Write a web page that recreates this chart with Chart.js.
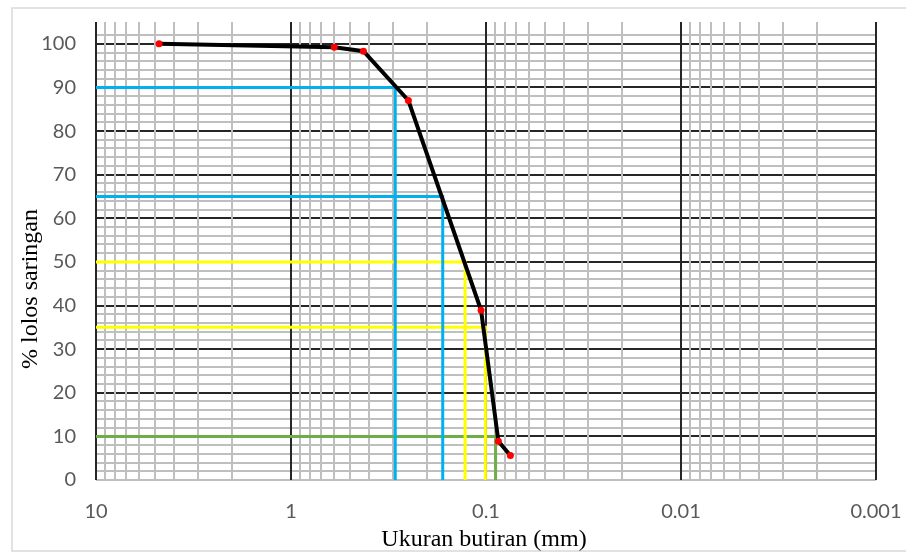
<!DOCTYPE html>
<html>
<head>
<meta charset="utf-8">
<title>Grafik gradasi butiran</title>
<script src="https://cdn.jsdelivr.net/npm/chart.js@4.4.1/dist/chart.umd.min.js"></script>
<style>
  html, body { margin: 0; padding: 0; background: #fff; }
</style>
</head>
<body>
<canvas id="gradasiChart" width="906" height="552"></canvas>
<script>
// data analisa saringan: ukuran butiran (mm) dan persen lolos
const ukuranButiran = [4.75, 0.6, 0.425, 0.25, 0.106, 0.0864, 0.075];
const persenLolos = [100, 99.2, 98.3, 87.0, 38.9, 8.9, 5.6];

// garis bantu D90, D65, D50, D35, D10
const labelD = ['D90', 'D65', 'D50', 'D35', 'D10'];
const persenD = [90, 65, 50, 35, 10];
const ukuranD = [0.292, 0.1667, 0.128, 0.1007, 0.0893];
const warnaD = ['#00b0f0', '#00b0f0', '#ffff00', '#ffff00', '#70ad47'];

// label sumbu
const xTickNilai = [10, 1, 0.1, 0.01, 0.001];
const xTickLabel = ['10', '1', '0.1', '0.01', '0.001'];
const xMinorKali = [2, 3, 4, 5, 6, 7, 8, 9];
const yTickLabel = [0, 10, 20, 30, 40, 50, 60, 70, 80, 90, 100];

const judulX = 'Ukuran butiran (mm)';
const judulY = '% lolos saringan';

// datasets: garis gradasi paling atas (index 0 digambar terakhir)
const datasets = [{
  label: 'Gradasi',
  data: ukuranButiran.map((x, i) => ({ x: x, y: persenLolos[i] })),
  borderColor: '#000000',
  borderWidth: 4,
  pointRadius: 3.5,
  pointBorderWidth: 0,
  pointBackgroundColor: '#ff0000',
  tension: 0
}];

labelD.forEach((lbl, i) => {
  datasets.push({
    label: lbl,
    data: [
      { x: xTickNilai[0], y: persenD[i] },
      { x: ukuranD[i], y: persenD[i] },
      { x: ukuranD[i], y: 0 }
    ],
    borderColor: warnaD[i],
    borderWidth: 3,
    pointRadius: 0,
    tension: 0
  });
});

// bingkai dan judul sumbu
const bingkaiPlugin = {
  id: 'bingkai',
  beforeDraw(chart) {
    const ctx = chart.ctx;
    ctx.save();
    ctx.fillStyle = '#ffffff';
    ctx.fillRect(0, 0, chart.width, chart.height);
    ctx.strokeStyle = '#d9d9d9';
    ctx.lineWidth = 1.5;
    ctx.strokeRect(12, 8, 900, 543);
    ctx.restore();
  },
  afterDraw(chart) {
    const ctx = chart.ctx;
    ctx.save();
    ctx.fillStyle = '#000000';
    ctx.font = '24px "Liberation Serif", "Times New Roman", serif';
    ctx.textAlign = 'center';
    ctx.textBaseline = 'middle';
    ctx.fillText(judulX, 484, 540);
    ctx.translate(31, 289);
    ctx.rotate(-Math.PI / 2);
    ctx.fillText(judulY, 0, 0);
    ctx.restore();
  }
};

const tickFont = { family: 'Lato', size: 20 };

new Chart(document.getElementById('gradasiChart'), {
  type: 'line',
  data: { datasets: datasets },
  plugins: [bingkaiPlugin],
  options: {
    responsive: false,
    animation: false,
    layout: { padding: { left: 12, top: 22, right: 30, bottom: 0 } },
    plugins: {
      legend: { display: false },
      tooltip: { enabled: false }
    },
    scales: {
      x: {
        type: 'logarithmic',
        reverse: true,
        min: 0.001,
        max: 10,
        afterBuildTicks: (scale) => {
          const t = [];
          xTickNilai.forEach(v => {
            t.push({ value: v, major: true });
            if (v < 10) xMinorKali.forEach(k => t.push({ value: v * k, major: false }));
          });
          scale.ticks = t.sort((a, b) => a.value - b.value);
        },
        afterFit: (scale) => {
          scale.height = 72;
          scale.paddingLeft = 0;
          scale.paddingRight = 0;
        },
        border: { display: false },
        grid: {
          z: -1,
          drawTicks: false,
          lineWidth: 2,
          color: (c) => (c.tick && c.tick.major) ? '#262626' : '#bfbfbf'
        },
        ticks: {
          autoSkip: false,
          maxRotation: 0,
          padding: 20,
          color: '#595959',
          font: tickFont,
          callback: (v) => {
            const i = xTickNilai.indexOf(v);
            return i >= 0 ? xTickLabel[i] : '';
          }
        }
      },
      y: {
        type: 'linear',
        min: 0,
        max: 105,
        afterFit: (scale) => {
          scale.width = 84;
          scale.paddingTop = 0;
          scale.paddingBottom = 0;
        },
        border: { display: false },
        grid: {
          z: -2,
          drawTicks: false,
          lineWidth: 2,
          color: (c) => {
            const v = c.tick.value;
            if (v > 104) return 'rgba(0,0,0,0)';
            if (v === 0) return '#bfbfbf';
            return v % 10 === 0 ? '#262626' : '#bfbfbf';
          }
        },
        ticks: {
          stepSize: 2,
          autoSkip: false,
          padding: 20,
          color: '#595959',
          font: tickFont,
          callback: (v) => yTickLabel.includes(v) ? String(v) : ''
        }
      }
    }
  }
});
</script>
</body>
</html>
